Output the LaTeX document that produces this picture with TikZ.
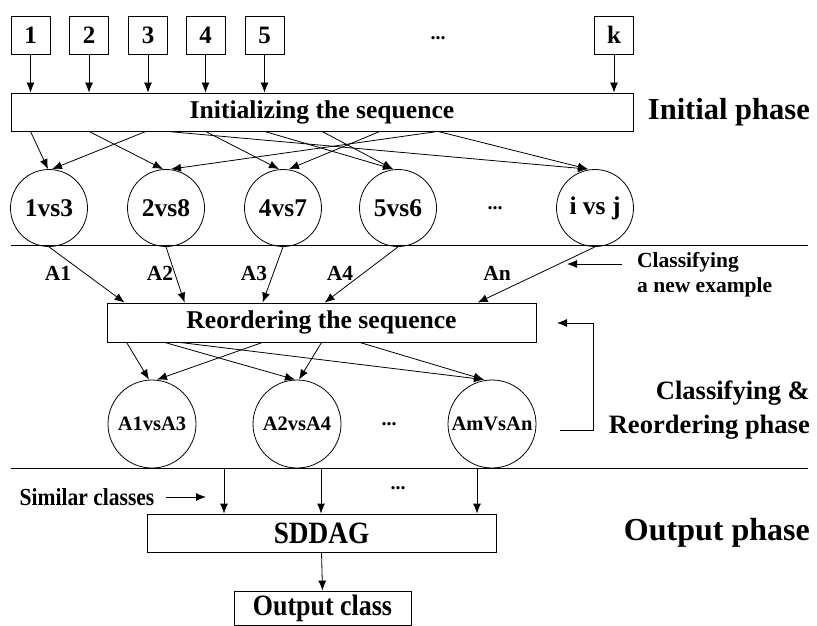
\documentclass[tikz,border=0pt]{standalone}
\usepackage{fontspec}
\setmainfont{Liberation Serif}
\newfontfamily\condfont[FakeStretch=0.88]{Liberation Serif}
\usetikzlibrary{arrows.meta,calc}
\tikzset{
  arr/.style={-{Latex[length=10pt,width=8pt]}, line width=0.8pt},
  numbox/.style={draw, line width=0.8pt, minimum width=39, minimum height=38, inner sep=0, font=\bfseries\fontsize{25}{28}\selectfont},
  bigbox/.style={draw, line width=0.8pt, inner sep=0, font=\bfseries\fontsize{25.6}{30}\selectfont},
  pair/.style={draw, circle, line width=0.8pt, minimum size=77, inner sep=0, font=\bfseries\fontsize{25.5}{28}\selectfont},
  pairb/.style={draw, circle, line width=0.8pt, minimum size=88, inner sep=0, font=\bfseries\fontsize{20.5}{24}\selectfont},
  lab/.style={font=\bfseries\fontsize{21.5}{24}\selectfont, inner sep=0},
  phase/.style={inner sep=0, anchor=east, align=right},
  dots/.style={font=\bfseries\fontsize{20}{24}\selectfont, inner sep=0},
}
\begin{document}
\begin{tikzpicture}[x=1pt,y=-1pt]
\useasboundingbox (0,0) rectangle (817,626);
% top boxes
\node[numbox] (b1) at (30.5,35) {1};
\node[numbox] (b2) at (89,35) {2};
\node[numbox] (b3) at (148,35) {3};
\node[numbox] (b4) at (205.5,35) {4};
\node[numbox] (b5) at (264.5,35) {5};
\node[numbox] (bk) at (614,35) {k};
\node[dots] (td) at (438,38) {...};
% init box
\node[bigbox, minimum width=622, minimum height=38] (init) at (322,112) {Initializing the sequence};
\node[phase, font=\bfseries\fontsize{30.5}{34}\selectfont] (ph1) at (810,112) {Initial phase};
\foreach \b in {b1,b2,b3,b4,b5,bk} \draw[arr] (\b.south) -- (\b.south |- init.north);
% circles row 1
\node[pair] (c1) at (49,208) {1vs3};
\node[pair] (c2) at (166,208) {2vs8};
\node[pair] (c3) at (283,208) {4vs7};
\node[pair] (c4) at (398,208) {5vs6};
\node[pair] (c5) at (595,208) {i vs j};
\node[dots] (rd1) at (495,208) {...};
% arrows init -> circles
\coordinate (s1) at (init.south -| b1.south);
\coordinate (s2) at (init.south -| b2.south);
\coordinate (s3) at ($(init.south -| b3.south)+(-2,0)$);
\coordinate (si) at ($(init.south)+(-155,0)$);
\coordinate (s4) at (init.south -| b4.south);
\coordinate (s5) at (init.south -| b5.south);
\coordinate (s6) at (init.south);
\coordinate (s7) at ($(init.south)+(58,0)$);
\coordinate (s8) at ($(init.south)+(116,0)$);
\draw[arr] (s1) -- ($(c1.north)+(-1,0)$);
\draw[arr] (s3) -- ($(c1.north)+(3,0)$);
\draw[arr] (s2) -- ($(c2.north)+(-3,0)$);
\draw[arr] (s8) -- ($(c2.north)+(5,0)$);
\draw[arr] (s4) -- ($(c3.north)+(-4,0)$);
\draw[arr] (s7) -- ($(c3.north)+(6,0)$);
\draw[arr] (s5) -- ($(c4.north)+(-5,0)$);
\draw[arr] (s6) -- ($(c4.north)+(-5,0)$);
\draw[arr] (si) -- ($(c5.north)+(-7,0)$);
\draw[arr] (s8) -- ($(c5.north)+(-7,0)$);
% separator 1
\draw[line width=0.8pt] (11,245) -- (808,245);
% reorder box
\node[bigbox, minimum width=429, minimum height=39] (reo) at (321.5,322.5) {Reordering the sequence};
\draw[arr] (c1.south) -- ($(reo.north west)+(18,0)$);
\draw[arr] (c2.south) -- ($(reo.north west)+(78,0)$);
\draw[arr] (c3.south) -- ($(reo.north west)+(156,0)$);
\draw[arr] (c4.south) -- ($(reo.north west)+(218,0)$);
\draw[arr] (c5.south) -- ($(reo.north west)+(371,0)$);
\node[lab] (a1) at (58,273) {A1};
\node[lab] (a2) at (160,273) {A2};
\node[lab] (a3) at (254,273) {A3};
\node[lab] (a4) at (340,273) {A4};
\node[lab] (an) at (497,273) {An};
% classifying new example
\node[lab, anchor=west, align=left] (cne) at (637,275) {Classifying\\[1pt]a new example};
\coordinate (cneS) at (622,264);
\coordinate (cneT) at (567,264);
\draw[arr] (cneS) -- (cneT);
% circles row 2
\node[pairb] (d1) at (152,424) {A1vsA3};
\node[pairb] (d2) at (297,424) {A2vsA4};
\node[pairb] (d3) at (492,424) {AmVsAn};
\node[dots] (rd2) at (389,424) {...};
\coordinate (r1) at ($(reo.south west)+(20,0)$);
\coordinate (r2) at ($(reo.south west)+(58,0)$);
\coordinate (r3) at ($(reo.south west)+(73,0)$);
\coordinate (r4) at ($(reo.south west)+(156,0)$);
\coordinate (r5) at ($(reo.south west)+(215,0)$);
\coordinate (r6) at ($(reo.south west)+(253,0)$);
\draw[arr] (r1) -- ($(d1.north)+(-3,0)$);
\draw[arr] (r4) -- ($(d1.north)+(5,0)$);
\draw[arr] (r2) -- ($(d2.north)+(-2,0)$);
\draw[arr] (r5) -- ($(d2.north)+(2,0)$);
\draw[arr] (r3) -- ($(d3.north)+(-8,0)$);
\draw[arr] (r6) -- ($(d3.north)+(-8,0)$);
% feedback bracket
\coordinate (fb1) at (560,430);
\coordinate (fb2) at (593,430);
\coordinate (fb3) at (593,323);
\coordinate (fb4) at (557,323);
\draw[arr] (fb1) -- (fb2) -- (fb3) -- (fb4);
\node[phase, font=\bfseries\fontsize{26.5}{34}\selectfont] (ph2) at (810,410) {Classifying \&\\Reordering phase};
% separator 2
\draw[line width=0.8pt] (11,468) -- (808,468);
% output phase
\node[bigbox, minimum width=349, minimum height=38, font=\condfont\bfseries\fontsize{31}{34}\selectfont] (sdd) at (321.5,533) {SDDAG};
\coordinate (o1) at (224,468);
\coordinate (o2) at (321,468);
\coordinate (o3) at (477,468);
\draw[arr] (o1) -- (o1 |- sdd.north);
\draw[arr] (o2) -- (o2 |- sdd.north);
\draw[arr] (o3) -- (o3 |- sdd.north);
\node[dots] (od) at (398,488) {...};
\node[inner sep=0, font=\condfont\bfseries\fontsize{24.5}{28}\selectfont] (sim) at (87,497) {Similar classes};
\coordinate (simS) at (166,497);
\coordinate (simT) at (206,497);
\draw[arr] (simS) -- (simT);
\node[phase, font=\bfseries\fontsize{32}{36}\selectfont] (ph3) at (810,533) {Output phase};
\node[bigbox, minimum width=177, minimum height=34, font=\condfont\bfseries\fontsize{29.5}{30}\selectfont] (out) at (322.5,608) {Output class};
\draw[arr] (sdd.south) -- (out.north);
\end{tikzpicture}
\end{document}
